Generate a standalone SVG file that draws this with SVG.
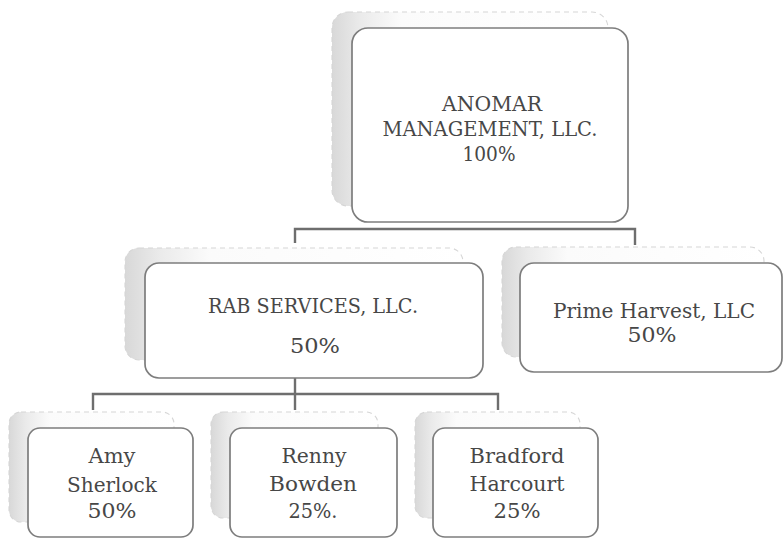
<svg xmlns="http://www.w3.org/2000/svg" width="783" height="544" viewBox="0 0 783 544">
<defs>
<linearGradient id="sh" x1="0" y1="0" x2="1" y2="0">
<stop offset="0" stop-color="#d8d8d8"/>
<stop offset="0.1" stop-color="#eaeaea"/>
<stop offset="0.25" stop-color="#fbfbfb"/>
<stop offset="1" stop-color="#ffffff"/>
</linearGradient>
<style>
.back{fill:url(#sh);stroke:#d6d6d6;stroke-width:1.1;stroke-dasharray:5 4}
.front{fill:#ffffff;stroke:#7d7d7d;stroke-width:1.7}
.t{font-family:"DejaVu Serif","Liberation Serif",serif;font-size:20px;fill:#474747;text-anchor:middle}
.c{fill:none;stroke:#6e6e6e;stroke-width:2.4}
</style>
</defs>
<rect width="783" height="544" fill="#ffffff"/>
<g id="connectors">
<path class="c" d="M295 243 V229 H635 V245"/>
<path class="c" d="M93 410 V394 H498 V410"/>
<path class="c" d="M295 378 V410"/>
</g>
<g id="anomar">
<rect class="back" x="332" y="12" width="276" height="194" rx="16"/>
<rect class="front" x="352" y="28" width="276" height="194" rx="16"/>
<text class="t" x="492" y="111" textLength="100" lengthAdjust="spacingAndGlyphs">ANOMAR</text>
<text class="t" x="490" y="136" textLength="215" lengthAdjust="spacingAndGlyphs">MANAGEMENT, LLC.</text>
<text class="t" x="489" y="161" textLength="53" lengthAdjust="spacingAndGlyphs">100%</text>
</g>
<g id="rab">
<rect class="back" x="125" y="248" width="338" height="112" rx="14"/>
<rect class="front" x="145" y="263" width="338" height="115" rx="14"/>
<text class="t" x="313" y="313" textLength="210" lengthAdjust="spacingAndGlyphs">RAB SERVICES, LLC.</text>
<text class="t" x="315" y="353" textLength="50" lengthAdjust="spacingAndGlyphs">50%</text>
</g>
<g id="prime">
<rect class="back" x="502" y="247" width="262" height="110" rx="14"/>
<rect class="front" x="520" y="263" width="262" height="109" rx="14"/>
<text class="t" x="654" y="318" textLength="202" lengthAdjust="spacingAndGlyphs">Prime Harvest, LLC</text>
<text class="t" x="652" y="342" textLength="49" lengthAdjust="spacingAndGlyphs">50%</text>
</g>
<g id="amy">
<rect class="back" x="9" y="412" width="165" height="110" rx="12"/>
<rect class="front" x="28" y="428" width="165" height="109" rx="12"/>
<text class="t" x="112" y="463" textLength="47" lengthAdjust="spacingAndGlyphs">Amy</text>
<text class="t" x="112" y="492" textLength="90" lengthAdjust="spacingAndGlyphs">Sherlock</text>
<text class="t" x="112" y="518" textLength="49" lengthAdjust="spacingAndGlyphs">50%</text>
</g>
<g id="renny">
<rect class="back" x="211" y="412" width="167" height="106" rx="12"/>
<rect class="front" x="230" y="428" width="167" height="109" rx="12"/>
<text class="t" x="314" y="463" textLength="65" lengthAdjust="spacingAndGlyphs">Renny</text>
<text class="t" x="313" y="491" textLength="88" lengthAdjust="spacingAndGlyphs">Bowden</text>
<text class="t" x="313" y="518" textLength="49" lengthAdjust="spacingAndGlyphs">25%.</text>
</g>
<g id="bradford">
<rect class="back" x="415" y="412" width="165" height="106" rx="12"/>
<rect class="front" x="433" y="428" width="165" height="109" rx="12"/>
<text class="t" x="517" y="463" textLength="95" lengthAdjust="spacingAndGlyphs">Bradford</text>
<text class="t" x="517" y="491" textLength="95" lengthAdjust="spacingAndGlyphs">Harcourt</text>
<text class="t" x="517" y="518" textLength="47" lengthAdjust="spacingAndGlyphs">25%</text>
</g>
</svg>
